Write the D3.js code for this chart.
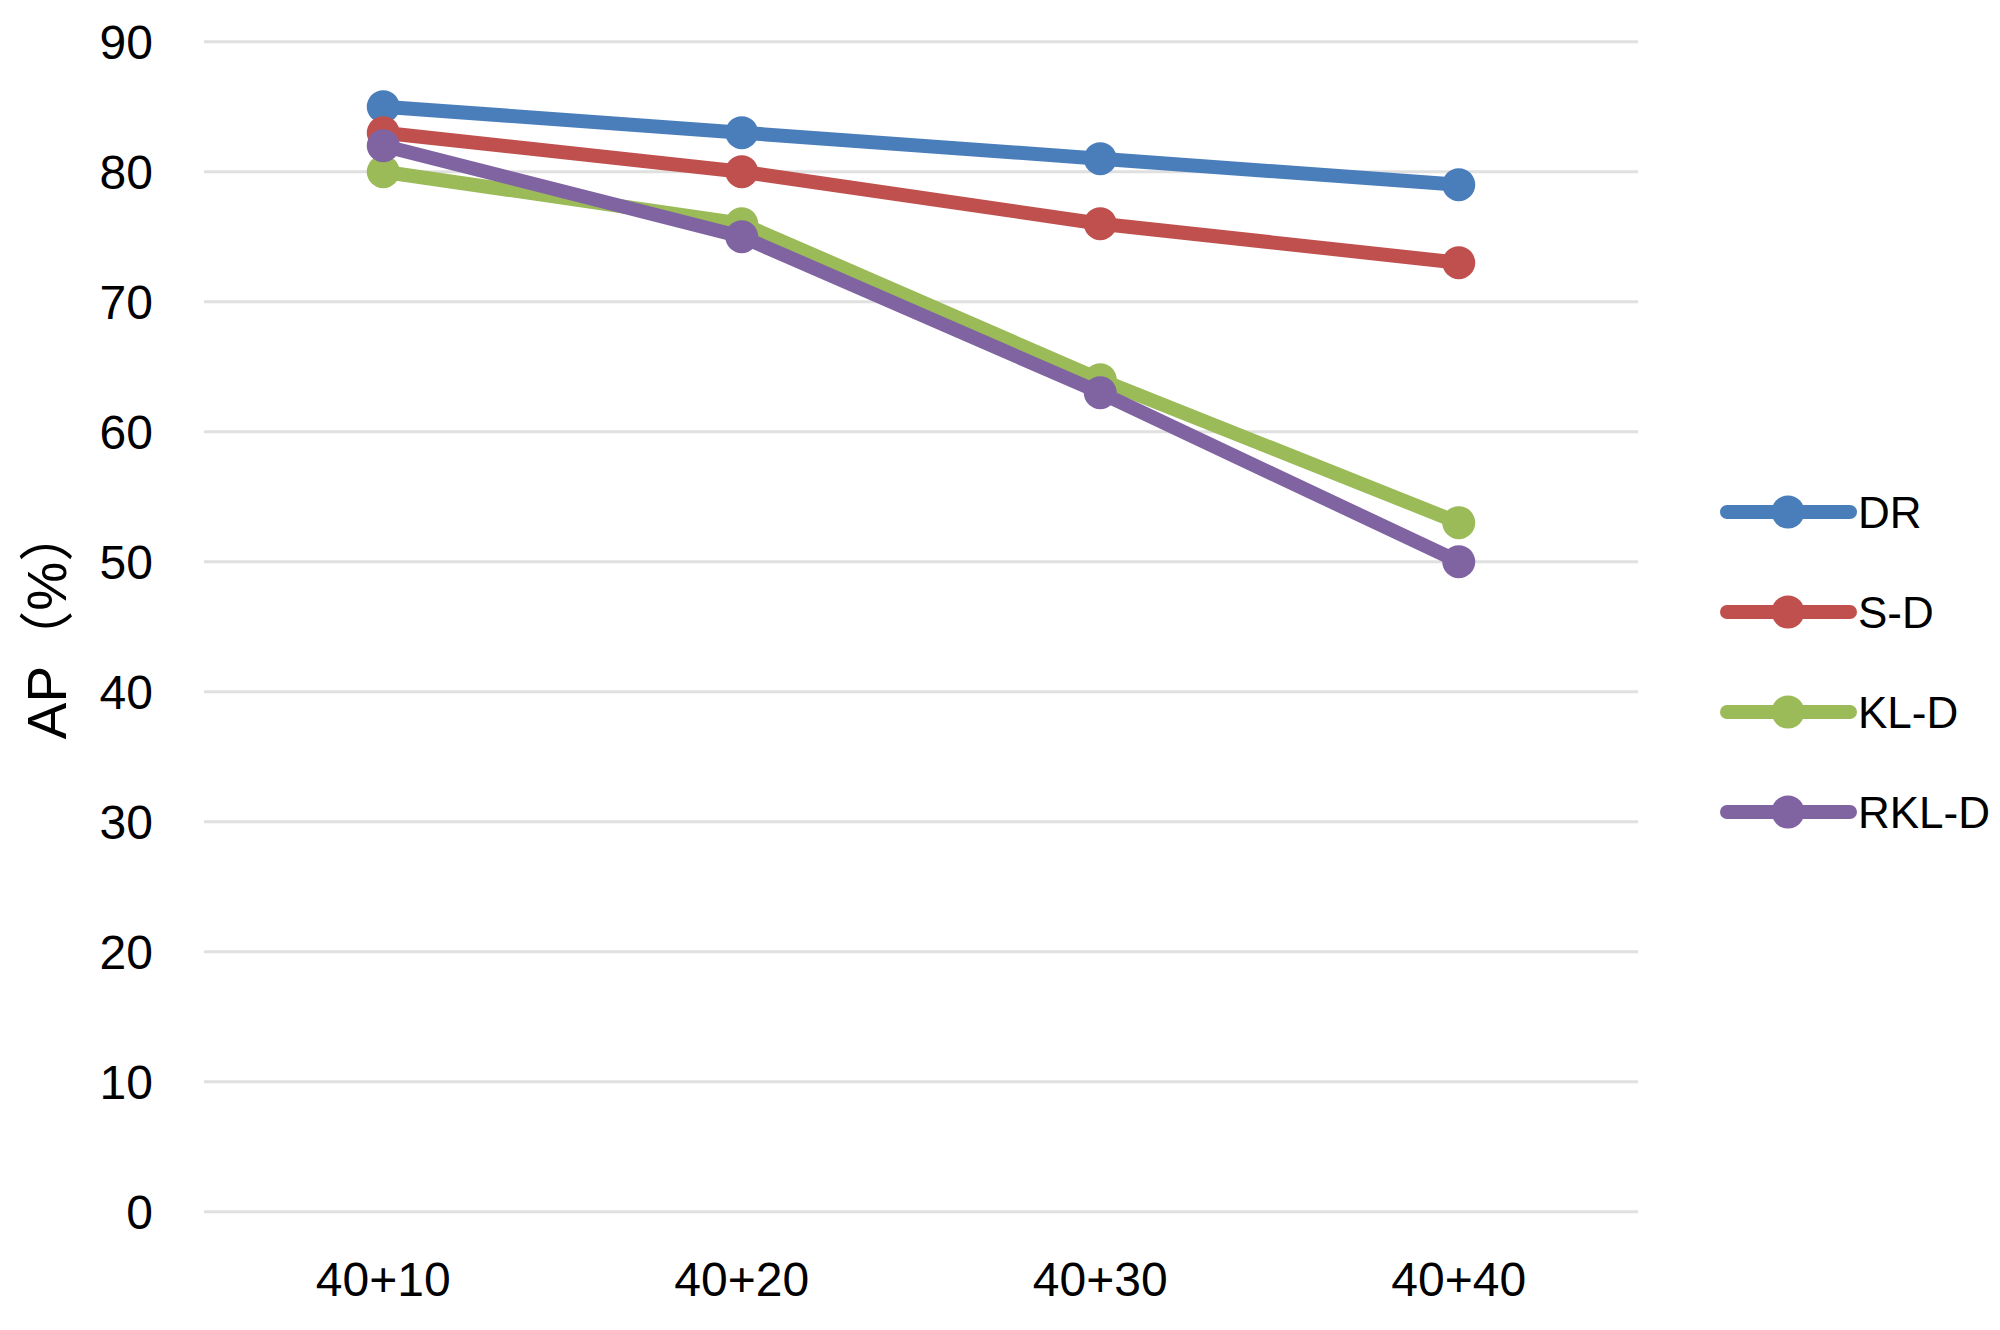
<!DOCTYPE html>
<html><head><meta charset="utf-8">
<script src="https://cdn.jsdelivr.net/npm/d3@7"></script>
<style>body{margin:0;background:#fff}svg{display:block}</style>
</head><body>
<svg id="chart" width="2000" height="1330"></svg>
<script>
const categories = ["40+10", "40+20", "40+30", "40+40"];
const seriesNames = ["DR", "S-D", "KL-D", "RKL-D"];
const seriesColors = ["#4A7EBB", "#C0504D", "#9BBB59", "#8064A2"];
const valuesDR = [85, 83, 81, 79];
const valuesSD = [83, 80, 76, 73];
const valuesKLD = [80, 76, 64, 53];
const valuesRKLD = [82, 75, 63, 50];
const yTicks = [0, 10, 20, 30, 40, 50, 60, 70, 80, 90];
const yTitle = "AP\uFF08%\uFF09";

const allValues = [valuesDR, valuesSD, valuesKLD, valuesRKLD];
const font = "'Liberation Sans', 'Noto Sans CJK SC', sans-serif";

const svg = d3.select("#chart");
const plotLeft = 204, plotRight = 1638, plotTop = 41.7, plotBottom = 1211.7;

const x = d3.scaleBand().domain(categories).range([plotLeft, plotRight]);
const y = d3.scaleLinear().domain([0, 90]).range([plotBottom, plotTop]);

// gridlines
svg.append("g").selectAll("line").data(yTicks).join("line")
  .attr("x1", plotLeft).attr("x2", plotRight)
  .attr("y1", d => y(d)).attr("y2", d => y(d))
  .attr("stroke", "#e0e0e0").attr("stroke-width", 3);

// y axis labels
const yAxis = svg.append("g").attr("transform", `translate(${plotLeft - 51},0)`)
  .call(d3.axisLeft(y).tickValues(yTicks).tickSize(0).tickPadding(0));
yAxis.select(".domain").remove();
yAxis.selectAll("text").attr("font-size", 48).attr("font-family", font).attr("fill", "#000").attr("dy", "0.35em");

// x axis labels
const xAxis = svg.append("g").attr("transform", `translate(0,${plotBottom})`)
  .call(d3.axisBottom(x).tickSize(0).tickPadding(0));
xAxis.select(".domain").remove();
xAxis.selectAll("text").attr("font-size", 48).attr("font-family", font).attr("fill", "#000")
  .attr("dy", null).attr("y", 84);

// y title
svg.append("text").attr("transform", "translate(66,623) rotate(-90)")
  .attr("text-anchor", "middle").attr("font-size", 55).attr("font-family", font)
  .attr("fill", "#000").text(yTitle);

const line = d3.line().x((d, i) => x(categories[i]) + x.bandwidth() / 2).y(d => y(d));

allValues.forEach((vals, s) => {
  const g = svg.append("g");
  g.append("path").attr("d", line(vals)).attr("fill", "none")
    .attr("stroke", seriesColors[s]).attr("stroke-width", 14)
    .attr("stroke-linejoin", "round").attr("stroke-linecap", "round");
  g.selectAll("circle").data(vals).join("circle")
    .attr("cx", (d, i) => x(categories[i]) + x.bandwidth() / 2)
    .attr("cy", d => y(d)).attr("r", 16.5).attr("fill", seriesColors[s]);
});

// legend
const legend = svg.append("g");
seriesNames.forEach((name, s) => {
  const ly = 512 + s * 100;
  legend.append("line").attr("x1", 1727).attr("x2", 1850).attr("y1", ly).attr("y2", ly)
    .attr("stroke", seriesColors[s]).attr("stroke-width", 14).attr("stroke-linecap", "round");
  legend.append("circle").attr("cx", 1788).attr("cy", ly).attr("r", 16.5).attr("fill", seriesColors[s]);
  legend.append("text").attr("x", 1858).attr("y", ly).attr("dy", "0.36em")
    .attr("font-size", 44).attr("font-family", font).attr("fill", "#000").text(name);
});
</script>
</body></html>
